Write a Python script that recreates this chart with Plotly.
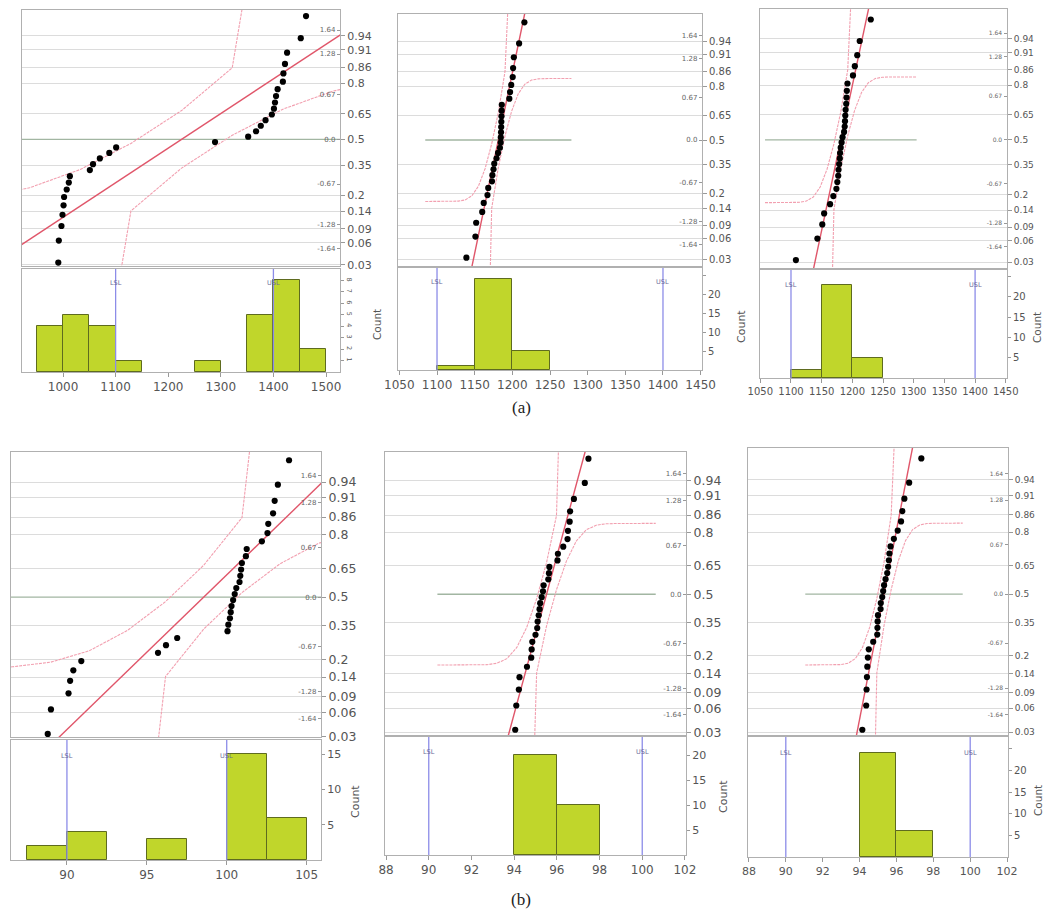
import statistics
import plotly.graph_objects as go

W, H = 1045, 916
ND = statistics.NormalDist()

# ---------------- data ----------------
# (a) three runs, 30 measurements each
values_a1 = [991, 992, 997, 999, 1001, 1002, 1007, 1011, 1013, 1051,
             1057, 1070, 1088, 1101, 1289, 1352, 1367, 1376, 1385, 1397,
             1401, 1403, 1405, 1408, 1418, 1419, 1422, 1426, 1452, 1462]
values_a2 = [1139, 1151, 1152, 1160, 1162, 1167, 1168, 1173, 1173.5, 1175,
             1176, 1179, 1181, 1183.5, 1184.5, 1184.7, 1185, 1185.2, 1185.4, 1185.6,
             1185.8, 1186, 1196, 1197, 1198.5, 1200.5, 1201, 1202, 1209, 1216]
values_a3 = [1108, 1143, 1151, 1154, 1163.7, 1169, 1174, 1175.5, 1177, 1177.5,
             1178.5, 1179.5, 1180, 1181, 1182.5, 1184, 1186.5, 1187.5, 1188, 1188.5,
             1189, 1190, 1190.5, 1191, 1192, 1201, 1204, 1208, 1212, 1230]
# (b) three runs, 30 measurements each
values_b1 = [88.8, 89.0, 90.1, 90.2, 90.4, 90.9, 95.7, 96.2, 96.9, 100.05,
             100.1, 100.2, 100.25, 100.3, 100.4, 100.5, 100.6, 100.8, 100.85, 100.9,
             100.95, 101.2, 101.25, 102.2, 102.55, 102.6, 102.9, 103.0, 103.2, 103.9]
values_b2 = [94.05, 94.1, 94.22, 94.25, 94.6, 94.8, 94.82, 94.85, 95.0, 95.08,
             95.1, 95.15, 95.19, 95.22, 95.29, 95.35, 95.38, 95.6, 95.63, 95.65,
             96.03, 96.05, 96.3, 96.5, 96.52, 96.6, 96.62, 96.8, 97.31, 97.48]
values_b3 = [94.15, 94.36, 94.38, 94.4, 94.42, 94.45, 94.5, 94.74, 94.96, 94.97,
             94.98, 95.0, 95.14, 95.15, 95.23, 95.28, 95.33, 95.41, 95.5, 95.55,
             95.59, 95.62, 95.68, 95.86, 96.07, 96.25, 96.32, 96.43, 96.69, 97.35]

spec_a = [1100, 1400]          # LSL, USL
spec_b = [90, 100]
spec_labels = ["LSL", "USL"]

prob_ticks = [0.03, 0.06, 0.09, 0.14, 0.2, 0.35, 0.5, 0.65, 0.8, 0.86, 0.91, 0.94]
prob_labels = ["0.03", "0.06", "0.09", "0.14", "0.2", "0.35", "0.5", "0.65",
               "0.8", "0.86", "0.91", "0.94"]
quant_ticks = [1.64, 1.28, 0.67, 0.0, -0.67, -1.28, -1.64]
quant_labels = ["1.64", "1.28", "0.67", "0.0", "-0.67", "-1.28", "-1.64"]

xticks_a1 = [1000, 1100, 1200, 1300, 1400, 1500]
xticks_a23 = [1050, 1100, 1150, 1200, 1250, 1300, 1350, 1400, 1450]
xticks_b1 = [90, 95, 100, 105]
xticks_b23 = [88, 90, 92, 94, 96, 98, 100, 102]

count_ticks_a1 = [1, 2, 3, 4, 5, 6, 7, 8]
count_ticks_5_25 = [5, 10, 15, 20, 25]
count_text_5_25 = ["5", "10", "15", "20", ""]
count_ticks_5_15 = [5, 10, 15]
count_ticks_5_20 = [5, 10, 15, 20]

LILLIEFORS_D = 0.167
BAND_SPAN = 5.5
BAND_STEP = 0.5

# ---------------- panel layout (pixels) and styles ----------------
panels = [
    dict(vals=values_a1, spec=spec_a, frame=(22, 340, 10, 266, 269, 372),
         xr=(922, 1526.6), zr=(-1.90, 1.94), xt=xticks_a1, bins=(950, 1500, 50),
         cr=(0, 9), ct=count_ticks_a1, ctt=[str(v) for v in count_ticks_a1],
         fp=11, fi=7, fx=12, fc=6.5, cang=90, ft=10.5, cpos=(377, 325)),
    dict(vals=values_a2, spec=spec_a, frame=(398, 702, 14, 266, 268, 370),
         xr=(1048.2, 1451.8), zr=(-1.98, 1.98), xt=xticks_a23, bins=(1050, 1450, 50),
         cr=(0, 26.9), ct=count_ticks_5_25, ctt=count_text_5_25,
         fp=10, fi=7, fx=12, fc=10, cang=0, ft=11, cpos=(741, 327)),
    dict(vals=values_a3, spec=spec_a, frame=(760, 1007, 9, 268, 270, 378),
         xr=(1049.5, 1452), zr=(-1.97, 2.01), xt=xticks_a23, bins=(1050, 1450, 50),
         cr=(0, 26.6), ct=count_ticks_5_25, ctt=count_text_5_25,
         fp=9, fi=6, fx=10, fc=10, cang=0, ft=10.5, cpos=(1037, 328)),
    dict(vals=values_b1, spec=spec_b, frame=(11, 321, 452, 737, 740, 860),
         xr=(86.5, 105.9), zr=(-1.89, 1.96), xt=xticks_b1, bins=(87.5, 105, 2.5),
         cr=(0, 17), ct=count_ticks_5_15, ctt=[str(v) for v in count_ticks_5_15],
         fp=12.5, fi=7, fx=12, fc=11, cang=0, ft=11, cpos=(355, 802)),
    dict(vals=values_b2, spec=spec_b, frame=(385, 686, 452, 735, 737, 855),
         xr=(87.95, 102.05), zr=(-1.92, 1.94), xt=xticks_b23, bins=(88, 102, 2),
         cr=(0, 23.6), ct=count_ticks_5_20, ctt=[str(v) for v in count_ticks_5_20],
         fp=12.5, fi=7, fx=12, fc=11, cang=0, ft=11, cpos=(723, 797)),
    dict(vals=values_b3, spec=spec_b, frame=(748, 1008, 448, 735, 737, 857),
         xr=(87.95, 102.05), zr=(-1.92, 1.99), xt=xticks_b23, bins=(88, 102, 2),
         cr=(0, 27.7), ct=count_ticks_5_25, ctt=count_text_5_25,
         fp=9, fi=6, fx=11, fc=10, cang=0, ft=10.5, cpos=(1038, 801)),
]

FONT = "DejaVu Sans"
FRAME = "#b0b0b0"
GRID = "#dcdcdc"
TXT = "#4a4a4a"
BAR_FILL = "#c0d62b"
BAR_LINE = "#5e6b1f"
FIT = "#e0566a"
BAND = "#f2a0b0"
ZERO = "#a2b6a2"
SPEC = "#8c8ce8"


def sfx(n):
    return "" if n == 1 else str(n)


def clip(p):
    return min(max(p, 1e-8), 1 - 1e-8)


fig = go.Figure()
layout = dict(width=W, height=H, margin=dict(l=0, r=0, t=0, b=0, autoexpand=False),
              paper_bgcolor="white", plot_bgcolor="white", showlegend=False,
              bargap=0, font=dict(family=FONT, color=TXT))
shapes = []
annotations = []

z_prob = [ND.inv_cdf(p) for p in prob_ticks]
z_grid = [ND.inv_cdf(p) for p in prob_ticks if p != 0.5]

for k, P in enumerate(panels):
    nxq, nxh = 2 * k + 1, 2 * k + 2
    nyq, nyi, nyh = 3 * k + 1, 3 * k + 2, 3 * k + 3
    xq, xh = "x" + sfx(nxq), "x" + sfx(nxh)
    yq, yi, yh = "y" + sfx(nyq), "y" + sfx(nyi), "y" + sfx(nyh)
    L, R, QT, QB, HT, HB = P["frame"]
    xdom = [L / W, R / W]

    vals = sorted(P["vals"])
    n = len(vals)
    zq = [ND.inv_cdf(i / (n + 1)) for i in range(1, n + 1)]
    m = statistics.mean(vals)
    s = statistics.stdev(vals)

    # ---- quantile plot axes ----
    layout["xaxis" + sfx(nxq)] = dict(
        domain=xdom, anchor=yq, range=list(P["xr"]), showticklabels=False,
        ticks="", showgrid=False, zeroline=False, showline=True, mirror=True,
        linecolor=FRAME, linewidth=1, automargin=False)
    layout["yaxis" + sfx(nyq)] = dict(
        domain=[1 - QB / H, 1 - QT / H], anchor=xq, side="right",
        range=list(P["zr"]), tickmode="array", tickvals=z_prob, ticktext=prob_labels,
        ticks="outside", ticklen=4, tickcolor="#999", tickfont=dict(size=P["fp"], color="#555"),
        showgrid=False, zeroline=False, showline=True, mirror=True,
        linecolor=FRAME, linewidth=1, automargin=False,
        minor=dict(tickmode="array", tickvals=z_grid, showgrid=True,
                   gridcolor=GRID, gridwidth=1, ticks=""))
    layout["yaxis" + sfx(nyi)] = dict(
        overlaying=yq, anchor=xq, side="right", range=list(P["zr"]),
        tickmode="array", tickvals=quant_ticks, ticktext=quant_labels,
        ticks="inside", ticklen=3, tickcolor="#999", ticklabelposition="inside",
        tickfont=dict(size=P["fi"], color="#666"), automargin=False,
        showgrid=False, zeroline=False, showline=False)

    # ---- histogram axes ----
    layout["xaxis" + sfx(nxh)] = dict(
        domain=xdom, anchor=yh, range=list(P["xr"]), tickmode="array",
        tickvals=P["xt"], ticks="outside", ticklen=4, tickcolor="#999",
        tickfont=dict(size=P["fx"], color="#555"), showgrid=False, zeroline=False,
        showline=True, mirror=True, linecolor=FRAME, linewidth=1, automargin=False)
    layout["yaxis" + sfx(nyh)] = dict(
        domain=[1 - HB / H, 1 - HT / H], anchor=xh, side="right",
        range=list(P["cr"]), tickmode="array", tickvals=P["ct"], ticktext=P["ctt"],
        ticks="outside", ticklen=3, tickcolor="#999", tickangle=P["cang"],
        tickfont=dict(size=P["fc"], color="#555"), showgrid=False, zeroline=False,
        showline=True, mirror=True, linecolor=FRAME, linewidth=1, automargin=False)

    # ---- histogram ----
    b0, b1, bw = P["bins"]
    fig.add_trace(go.Histogram(
        x=vals, xbins=dict(start=b0, end=b1, size=bw), autobinx=False,
        marker=dict(color=BAR_FILL, line=dict(color=BAR_LINE, width=1)),
        xaxis=xh, yaxis=yh, hoverinfo="skip"))

    # spec limits
    for sv, sl in zip(P["spec"], spec_labels):
        shapes.append(dict(type="line", xref=xh, yref=yh + " domain", x0=sv, x1=sv,
                           y0=0, y1=1, line=dict(color=SPEC, width=1.3), layer="above"))
        annotations.append(dict(xref=xh, yref=yh + " domain", x=sv, y=0.92, text=sl,
                                showarrow=False, font=dict(size=6.5, color="#6a6a9a")))

    # ---- zero (median) line over band span ----
    fig.add_trace(go.Scatter(
        x=[m - BAND_SPAN * s, m + BAND_SPAN * s], y=[0, 0], mode="lines",
        line=dict(color=ZERO, width=1.3), xaxis=xq, yaxis=yq, hoverinfo="skip"))

    # ---- Lilliefors confidence bands ----
    nsteps = int(round(2 * BAND_SPAN / BAND_STEP))
    us = [-BAND_SPAN + BAND_STEP * j for j in range(nsteps + 1)]
    bx = [m + s * u for u in us]
    z_up = [ND.inv_cdf(clip(ND.cdf(u) + LILLIEFORS_D)) for u in us]
    z_lo = [ND.inv_cdf(clip(ND.cdf(u) - LILLIEFORS_D)) for u in us]
    for zb in (z_up, z_lo):
        fig.add_trace(go.Scatter(
            x=bx, y=zb, mode="lines", line=dict(color=BAND, width=1.1, dash="3px,1px"),
            xaxis=xq, yaxis=yq, hoverinfo="skip"))

    # ---- normal fit line ----
    zf = [P["zr"][0] - 1, P["zr"][1] + 1]
    fig.add_trace(go.Scatter(
        x=[m + s * z for z in zf], y=zf, mode="lines",
        line=dict(color=FIT, width=1.4), xaxis=xq, yaxis=yq, hoverinfo="skip"))

    # ---- data points ----
    fig.add_trace(go.Scatter(
        x=vals, y=zq, mode="markers", marker=dict(color="black", size=6.2),
        xaxis=xq, yaxis=yq, cliponaxis=False, hoverinfo="skip"))

    # invisible anchor trace for the inner quantile axis
    fig.add_trace(go.Scatter(
        x=[m], y=[0], mode="markers", marker=dict(opacity=0, size=1),
        xaxis=xq, yaxis=yi, hoverinfo="skip"))

    # "Count" title
    cx, cy = P["cpos"]
    annotations.append(dict(xref="paper", yref="paper", x=cx / W, y=1 - cy / H,
                            text="Count", textangle=-90, showarrow=False,
                            xanchor="center", yanchor="middle",
                            font=dict(size=P["ft"], color="#555")))

# panel captions
for txt, (cx, cy) in zip(["(a)", "(b)"], [(521, 408), (521, 899)]):
    annotations.append(dict(xref="paper", yref="paper", x=cx / W, y=1 - cy / H,
                            text=txt, showarrow=False, xanchor="center", yanchor="middle",
                            font=dict(family="Liberation Serif", size=17, color="#222")))

layout["shapes"] = shapes
layout["annotations"] = annotations
fig.update_layout(**layout)
fig.write_html("out.html")
